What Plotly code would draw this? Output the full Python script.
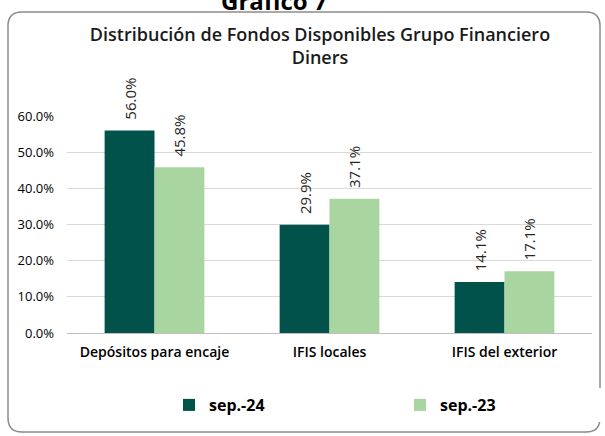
import plotly.graph_objects as go

categories = ["Depósitos para encaje", "IFIS locales", "IFIS del exterior"]
sep24 = [0.560, 0.299, 0.141]
sep23 = [0.458, 0.371, 0.171]
series_names = ["sep.-24", "sep.-23"]
title_text = "Distribución de Fondos Disponibles Grupo Financiero<br>Diners"

W, H = 605, 436
L, R, T, B = 67, 13, 116, 103
PW, PH = W - L - R, H - T - B

def px(x):
    return (x - L) / PW

def py(y):
    return (H - B - y) / PH

NB = "\u00a0\u00a0"

fig = go.Figure()
fig.add_trace(go.Bar(x=categories, y=sep24, name=series_names[0],
                     marker_color="#00524A", marker_line_width=0,
                     text=[f"{NB}{v*100:.1f}%" for v in sep24], textposition="outside",
                     textangle=-90, cliponaxis=False,
                     textfont=dict(family="Open Sans", size=15, color="#262626")))
fig.add_trace(go.Bar(x=categories, y=sep23, name=series_names[1],
                     marker_color="#A9D5A1", marker_line_width=0,
                     text=[f"{NB}{v*100:.1f}%" for v in sep23], textposition="outside",
                     textangle=-90, cliponaxis=False,
                     textfont=dict(family="Open Sans", size=15, color="#262626")))

# rounded border
x0, y0, x1, y1, r = 8, 12, 600, 432, 14
path = (f"M {px(x0+r)},{py(y0)} L {px(x1-r)},{py(y0)} "
        f"Q {px(x1)},{py(y0)} {px(x1)},{py(y0+r)} "
        f"L {px(x1)},{py(y1-r)} Q {px(x1)},{py(y1)} {px(x1-r)},{py(y1)} "
        f"L {px(x0+r)},{py(y1)} Q {px(x0)},{py(y1)} {px(x0)},{py(y1-r)} "
        f"L {px(x0)},{py(y0+r)} Q {px(x0)},{py(y0)} {px(x0+r)},{py(y0)} Z")
fig.add_shape(type="path", path=path, xref="paper", yref="paper",
              line=dict(color="#8C8C8C", width=1.5), layer="below")

fig.add_annotation(text="<b>Gráfico 7</b>", xref="paper", yref="paper",
                   x=px(274), y=py(1), xanchor="center", yanchor="middle",
                   showarrow=False, font=dict(family="Open Sans", size=24, color="#000000"))

fig.update_layout(
    width=W, height=H,
    margin=dict(l=L, r=R, t=T, b=B, autoexpand=False),
    paper_bgcolor="white", plot_bgcolor="white",
    barmode="group", bargap=0.43, bargroupgap=0,
    title=dict(text=title_text, xref="container", x=320 / W, xanchor="center",
               yref="container", y=1 - 40.5 / H, yanchor="middle",
               font=dict(family="Open Sans", size=18, color="#1a1a1a", weight=600)),
    showlegend=True,
    legend=dict(orientation="h", x=px(169), xanchor="left", y=py(405), yanchor="middle",
                entrywidth=186, entrywidthmode="pixels",
                font=dict(family="Open Sans", size=16, color="#000000", weight="bold"),
                itemwidth=30, traceorder="normal"),
    xaxis=dict(showline=True, linecolor="#BFBFBF", linewidth=1, ticks="",
               tickfont=dict(family="Open Sans", size=14, color="#000000", weight=600),
               ticklabelstandoff=6),
    yaxis=dict(range=[0, 0.6], dtick=0.1, tickformat=".1%", showgrid=True,
               gridcolor="#D9D9D9", gridwidth=1, zeroline=False, showline=False,
               tickfont=dict(family="Open Sans", size=13, color="#000000"),
               ticklabelstandoff=12),
)

fig.write_html("out.html", config={"displayModeBar": False},
               post_script="document.body.style.margin='0';")
